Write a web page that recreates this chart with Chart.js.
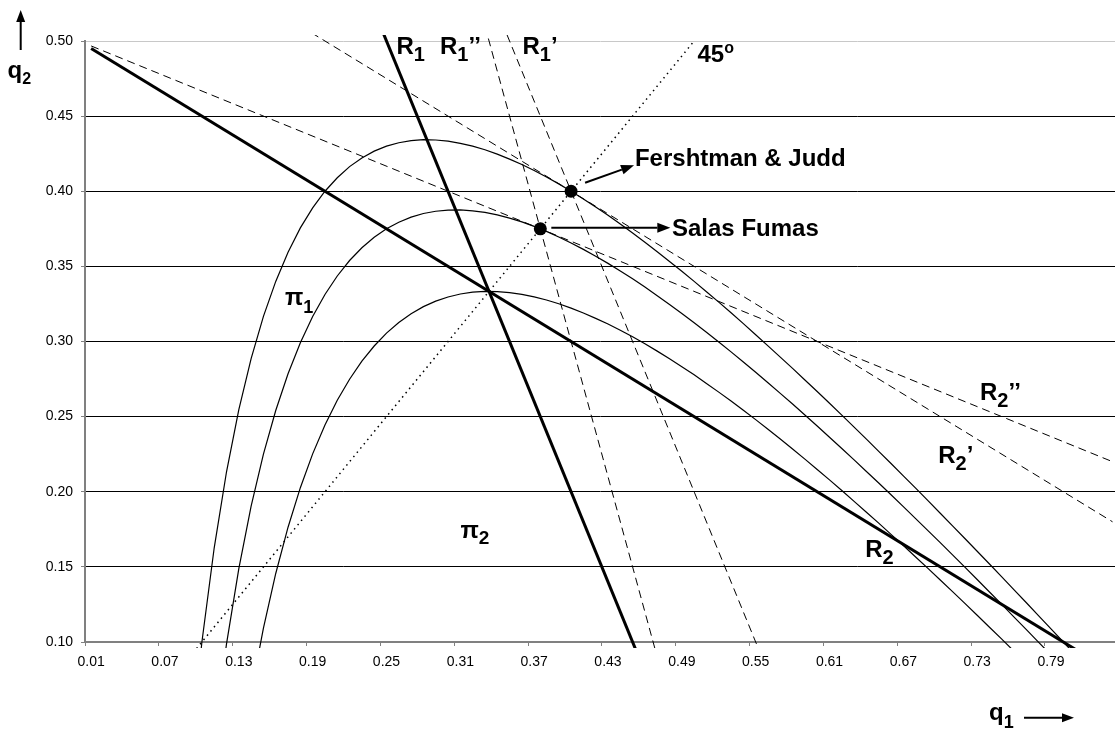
<!DOCTYPE html>
<html>
<head>
<meta charset="utf-8">
<script src="https://cdn.jsdelivr.net/npm/chart.js@4.4.1/dist/chart.umd.min.js"></script>
<style>
  html, body { margin: 0; padding: 0; background: #fff; overflow: hidden; }
  canvas { display: block; }
</style>
</head>
<body>
<canvas id="chart" width="1115" height="731"></canvas>
<script>
// Tick labels
const q1TickLabels = ['0.01','0.07','0.13','0.19','0.25','0.31','0.37','0.43','0.49','0.55','0.61','0.67','0.73','0.79'];
const q2TickLabels = ['0.10','0.15','0.20','0.25','0.30','0.35','0.40','0.45','0.50'];

// Output grid of firm 1 used by the iso-profit curves
const q1 = [0.09,0.10,0.11,0.12,0.13,0.14,0.15,0.16,0.17,0.18,0.19,0.20,0.21,0.22,0.23,0.24,0.25,0.26,0.27,0.28,
            0.29,0.30,0.31,0.32,0.33,0.34,0.35,0.36,0.37,0.38,0.39,0.40,0.41,0.42,0.43,0.44,0.45,0.46,0.47,0.48,
            0.49,0.50,0.51,0.52,0.53,0.54,0.55,0.56,0.57,0.58,0.59,0.60,0.61,0.62,0.63,0.64,0.65,0.66,0.67,0.68,
            0.69,0.70,0.71,0.72,0.73,0.74,0.75,0.76,0.77,0.78,0.79,0.80,0.81,0.82,0.83,0.84];

// Iso-profit curves of firm 1 (outer: through Fershtman & Judd, middle: through Salas Fumas, inner: through Cournot)
const isoOuter = [0.0211,0.1000,0.1627,0.2133,0.2546,0.2886,0.3167,0.3400,0.3594,0.3756,0.3889,0.4000,0.4090,0.4164,0.4222,0.4267,0.4300,0.4323,0.4337,0.4343,
                  0.4341,0.4333,0.4319,0.4300,0.4276,0.4247,0.4214,0.4178,0.4138,0.4095,0.4049,0.4000,0.3949,0.3895,0.3840,0.3782,0.3722,0.3661,0.3598,0.3533,
                  0.3467,0.3400,0.3331,0.3262,0.3191,0.3119,0.3045,0.2971,0.2896,0.2821,0.2744,0.2667,0.2589,0.2510,0.2430,0.2350,0.2269,0.2188,0.2106,0.2024,
                  0.1941,0.1857,0.1773,0.1689,0.1604,0.1519,0.1433,0.1347,0.1261,0.1174,0.1087,0.1000,0.0912,null,null,null];
const isoMiddle = [null,null,0.0377,0.0988,0.1488,0.1904,0.2250,0.2541,0.2785,0.2992,0.3166,0.3313,0.3436,0.3539,0.3624,0.3694,0.3750,0.3794,0.3828,0.3852,
                   0.3867,0.3875,0.3876,0.3870,0.3859,0.3843,0.3821,0.3796,0.3766,0.3733,0.3696,0.3656,0.3613,0.3568,0.3520,0.3469,0.3417,0.3362,0.3305,0.3247,
                   0.3187,0.3125,0.3062,0.2997,0.2931,0.2864,0.2795,0.2726,0.2655,0.2584,0.2511,0.2438,0.2363,0.2288,0.2212,0.2135,0.2058,0.1980,0.1901,0.1821,
                   0.1741,0.1661,0.1580,0.1498,0.1416,0.1333,0.1250,0.1166,0.1082,0.0998,0.0913,null,null,null,null,null];
const isoInner = [null,null,null,null,null,0.0663,0.1093,0.1456,0.1764,0.2027,0.2252,0.2444,0.2609,0.2749,0.2869,0.2970,0.3056,0.3126,0.3185,0.3232,
                  0.3269,0.3296,0.3316,0.3328,0.3333,0.3332,0.3325,0.3314,0.3297,0.3276,0.3251,0.3222,0.3190,0.3154,0.3116,0.3075,0.3031,0.2985,0.2936,0.2885,
                  0.2832,0.2778,0.2721,0.2663,0.2604,0.2542,0.2480,0.2416,0.2351,0.2284,0.2217,0.2148,0.2079,0.2008,0.1936,0.1864,0.1791,0.1716,0.1642,0.1566,
                  0.1490,0.1413,0.1335,0.1257,0.1178,0.1098,0.1019,0.0938,null,null,null,null,null,null,null,null];

// Reaction functions (end points of each straight line)
const r1Q1 = [0.24, 0.46];          const r1Q2 = [0.52, 0.08];
const r1ppQ1 = [0.33, 0.48];        const r1ppQ2 = [0.51, 0.06];
const r1pQ1 = [0.34, 0.56];         const r1pQ2 = [0.52, 0.08];
const r2Q1 = [0.01, 0.84];          const r2Q2 = [0.495, 0.08];
const r2ppQ1 = [0.01, 0.84];        const r2ppQ2 = [0.4967, 0.22];
const r2pQ1 = [0.18, 0.84];         const r2pQ2 = [0.51, 0.18];
const diagQ1 = [0.09, 0.50];        const diagQ2 = [0.09, 0.50];

// Equilibria
const fjQ1 = [0.40];    const fjQ2 = [0.40];
const sfQ1 = [0.375];   const sfQ2 = [0.375];

const FONT = '"Liberation Sans", Arial, Helvetica, sans-serif';
const lineClip = { left: 0, top: 6, right: 0, bottom: 6 };

function pts(xs, ys) {
  return xs.map((x, i) => ({ x, y: ys[i] })).filter(p => p.y !== null);
}
function series(label, xs, ys, style) {
  return Object.assign({
    label, data: pts(xs, ys), borderColor: '#000', backgroundColor: '#000',
    borderWidth: 1, pointRadius: 0, tension: 0, fill: false, spanGaps: false,
    borderCapStyle: 'butt', clip: lineClip
  }, style);
}
const thick = { borderWidth: 3 };
const thin = { borderWidth: 1.2 };
const dashed = { borderWidth: 1, borderDash: [8, 5] };
const dotted = { borderWidth: 1.5, borderDash: [1.5, 4] };
const dot = { showLine: false, pointRadius: 6.5, pointHoverRadius: 6.5, pointBackgroundColor: '#000', pointBorderWidth: 0 };

// Text placed in data coordinates (left edge, baseline)
const main = t => ({ text: t, size: 24 });
const sub = t => ({ text: t, size: 20, dy: 7 });
const textLabels = [
  { parts: [main('R'), sub('1')], q1: 0.2581, q2: 0.4913 },
  { parts: [main('R'), sub('1'), main('\u2019\u2019')], q1: 0.2935, q2: 0.4913 },
  { parts: [main('R'), sub('1'), main('\u2019')], q1: 0.3605, q2: 0.4913 },
  { parts: [main('45'), { text: 'o', size: 16, dy: -8.5 }], q1: 0.5027, q2: 0.4862 },
  { parts: [main('Fershtman & Judd')], q1: 0.4519, q2: 0.4170 },
  { parts: [main('Salas Fumas')], q1: 0.4820, q2: 0.3703 },
  { parts: [main('R'), sub('2'), main('\u2019\u2019')], q1: 0.7323, q2: 0.2613 },
  { parts: [main('R'), sub('2'), main('\u2019')], q1: 0.6984, q2: 0.2190 },
  { parts: [main('R'), sub('2')], q1: 0.6390, q2: 0.1563 },
  { parts: [main('\u03c0'), { text: '1', size: 18, dy: 7.5 }], q1: 0.1675, q2: 0.3240 },
  { parts: [main('\u03c0'), { text: '2', size: 19, dy: 6 }], q1: 0.3101, q2: 0.1695 }
];

function drawRich(ctx, parts, x, y) {
  let cx = x;
  for (const p of parts) {
    ctx.font = `bold ${p.size}px ${FONT}`;
    ctx.fillText(p.text, cx, y + (p.dy || 0));
    cx += ctx.measureText(p.text).width;
  }
}
function arrow(ctx, x1, y1, x2, y2, head, half) {
  const a = Math.atan2(y2 - y1, x2 - x1);
  const bx = x2 - head * Math.cos(a), by = y2 - head * Math.sin(a);
  ctx.beginPath(); ctx.moveTo(x1, y1); ctx.lineTo(bx, by); ctx.stroke();
  ctx.beginPath(); ctx.moveTo(x2, y2);
  ctx.lineTo(bx + half * Math.sin(a), by - half * Math.cos(a));
  ctx.lineTo(bx - half * Math.sin(a), by + half * Math.cos(a));
  ctx.closePath(); ctx.fill();
}

const annotations = {
  id: 'annotations',
  afterDatasetsDraw(chart) {
    const { ctx, chartArea: area, scales: { x, y } } = chart;
    ctx.save();
    ctx.fillStyle = '#000';
    ctx.strokeStyle = '#000';
    ctx.textBaseline = 'alphabetic';
    ctx.textAlign = 'left';
    for (const l of textLabels) {
      drawRich(ctx, l.parts, x.getPixelForValue(l.q1), y.getPixelForValue(l.q2));
    }
    ctx.lineWidth = 2;
    // pointers from the two equilibria to their names
    const fx = x.getPixelForValue(fjQ1[0]), fy = y.getPixelForValue(fjQ2[0]);
    arrow(ctx, fx + 14, fy - 8.5, fx + 63, fy - 26, 13, 5);
    const sx = x.getPixelForValue(sfQ1[0]), sy = y.getPixelForValue(sfQ2[0]);
    arrow(ctx, sx + 11, sy - 1, sx + 130, sy - 1, 13, 5);
    // axis titles
    drawRich(ctx, [main('q'), { text: '2', size: 16, dy: 5.5 }], area.left - 77.5, area.top + 37);
    arrow(ctx, area.left - 64.3, area.top + 9, area.left - 64.3, area.top - 31, 12, 4.5);
    drawRich(ctx, [main('q'), { text: '1', size: 18, dy: 8 }], area.right - 126, area.bottom + 78);
    arrow(ctx, area.right - 91, area.bottom + 75.7, area.right - 41, area.bottom + 75.7, 12, 4.5);
    ctx.restore();
  }
};

new Chart(document.getElementById('chart'), {
  type: 'line',
  data: {
    datasets: [
      series('Fershtman & Judd', fjQ1, fjQ2, dot),
      series('Salas Fumas', sfQ1, sfQ2, dot),
      series('R1', r1Q1, r1Q2, thick),
      series('R2', r2Q1, r2Q2, thick),
      series("R1''", r1ppQ1, r1ppQ2, dashed),
      series("R1'", r1pQ1, r1pQ2, dashed),
      series("R2''", r2ppQ1, r2ppQ2, dashed),
      series("R2'", r2pQ1, r2pQ2, dashed),
      series('45°', diagQ1, diagQ2, dotted),
      series('π1 outer', q1, isoOuter, thin),
      series('π1 middle', q1, isoMiddle, thin),
      series('π1 inner', q1, isoInner, thin)
    ]
  },
  options: {
    responsive: false,
    animation: false,
    events: [],
    layout: { autoPadding: false, padding: { top: 41, left: 0, right: 0, bottom: 0 } },
    plugins: { legend: { display: false }, tooltip: { enabled: false } },
    scales: {
      x: {
        type: 'linear', min: 0.005, max: 0.842,
        afterBuildTicks: s => { s.ticks = q1TickLabels.map(t => ({ value: parseFloat(t) - 0.005 })); },
        afterFit: s => { s.height = 89; },
        grid: { drawOnChartArea: false, tickLength: 4, tickColor: '#808080', tickWidth: 1 },
        border: { color: '#808080', width: 2 },
        ticks: {
          callback: (v, i) => q1TickLabels[i], labelOffset: 6.15, padding: 8,
          color: '#000', font: { family: FONT, size: 14 }, maxRotation: 0, autoSkip: false
        }
      },
      y: {
        type: 'linear', min: 0.1, max: 0.5,
        afterBuildTicks: s => { s.ticks = q2TickLabels.map(t => ({ value: parseFloat(t) })); },
        afterFit: s => { s.width = 85; },
        grid: {
          color: c => (c.tick && c.tick.value > 0.49) ? '#c8c8c8' : (c.tick && c.tick.value < 0.11 ? '#808080' : '#000'),
          lineWidth: 1, tickLength: 4, tickColor: '#808080', tickWidth: 1
        },
        border: { color: '#808080', width: 2 },
        ticks: {
          callback: (v, i) => q2TickLabels[i], padding: 8,
          color: '#000', font: { family: FONT, size: 14 }
        }
      }
    }
  },
  plugins: [annotations]
});
</script>
</body>
</html>
